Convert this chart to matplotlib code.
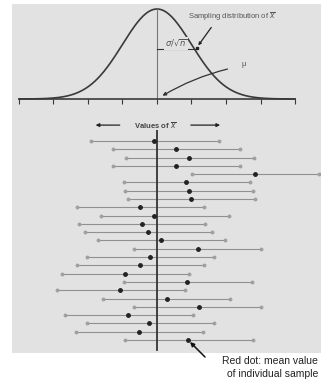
import numpy as np
import matplotlib
matplotlib.use('Agg')
import matplotlib.pyplot as plt
from matplotlib.patches import Rectangle

plt.rcParams['font.family'] = ['Liberation Sans', 'DejaVu Sans']

# x values are in units of sigma/sqrt(n), mu = 0
tick_pos = [-4, -3, -2, -1, 0, 1, 2, 3, 4]

# 25 sample intervals (top to bottom): lower end, sample mean, upper end
lower = [-1.92, -1.27, -0.90, -1.28, 1.01, -0.97, -0.92, -0.85, -2.31, -1.61,
         -2.27, -2.08, -1.72, -0.67, -2.04, -2.31, -2.75, -0.96, -2.89, -1.56,
         -0.67, -2.66, -2.04, -2.35, -0.93]
means = [-0.09, 0.55, 0.94, 0.55, 2.84, 0.84, 0.92, 0.98, -0.49, -0.09,
         -0.43, -0.26, 0.11, 1.19, -0.20, -0.49, -0.93, 0.88, -1.06, 0.28,
         1.21, -0.83, -0.23, -0.51, 0.90]
upper = [1.79, 2.41, 2.81, 2.40, 4.70, 2.70, 2.78, 2.84, 1.36, 2.08,
         1.40, 1.59, 1.97, 3.02, 1.65, 1.36, 0.92, 2.75, 0.80, 2.11,
         3.02, 1.03, 1.65, 1.34, 2.77]

W, H = 321, 381
fig = plt.figure(figsize=(W / 100, H / 100), dpi=100)
fig.patch.set_facecolor('white')
bg = '#e2e2e2'
fig.patches.append(Rectangle((12 / W, 1 - 353 / H), 1 - 12 / W, (353 - 4) / H,
                             transform=fig.transFigure, facecolor=bg,
                             edgecolor='none', zorder=-10))

xlim = (-157 / 34.5, (W - 157) / 34.5)

# ---- top panel: sampling distribution ----
ax1 = fig.add_axes([0, 1 - 132 / H, 1, 128 / H])
ax1.set_facecolor('none')
x = np.linspace(-4, 4, 400)
ax1.plot(x, np.exp(-x ** 2 / 2), color='#3a3a3a', lw=1.2)
ax1.plot([0, 0], [0, 1], color='#777777', lw=0.8)
ax1.set_xlim(xlim)
ax1.set_ylim(-33 / 90, 95 / 90)
for s in ['top', 'right', 'left']:
    ax1.spines[s].set_visible(False)
ax1.spines['bottom'].set_position(('data', 0))
ax1.spines['bottom'].set_bounds(-4, 4)
ax1.spines['bottom'].set_color('#3a3a3a')
ax1.spines['bottom'].set_linewidth(1.2)
ax1.set_xticks(tick_pos)
ax1.set_xticklabels([])
ax1.tick_params(axis='x', direction='out', length=3.5, width=0.8, color='#3a3a3a')
ax1.set_yticks([])

ax1.text(0.9, 0.92, r'Sampling distribution of $\overline{x}$', fontsize=5.5,
         color='#555555', va='center', ha='left')
ax1.annotate('', xy=(1.15, 0.57), xytext=(1.62, 0.82),
             arrowprops=dict(arrowstyle='-|>', color='#222222', lw=0.9,
                             mutation_scale=4))
ax1.plot([1.15], [0.57], 's', color='#222222', ms=2)

ax1.plot([0, 1.1], [0.55, 0.55], color='#333333', lw=0.8)
ax1.text(0.55, 0.62, r'$\sigma/\sqrt{n}$', fontsize=6, color='#555555',
         ha='center', va='center',
         bbox=dict(facecolor=bg, edgecolor='none', pad=0.5))

ax1.text(2.52, 0.38, 'μ', fontsize=5.5, color='#555555', ha='center', va='center')
ax1.annotate('', xy=(0.09, 0.02), xytext=(2.12, 0.34),
             arrowprops=dict(arrowstyle='-|>', color='#333333', lw=0.9,
                             mutation_scale=5,
                             connectionstyle='arc3,rad=0.08'))

ax1.text(-0.05, -0.29, r'Values of $\overline{x}$', fontsize=5.5, fontweight='bold',
         color='#444444', ha='center', va='center')
ax1.annotate('', xy=(-1.86, -0.29), xytext=(-1.0, -0.29),
             arrowprops=dict(arrowstyle='-|>', color='#222222', lw=0.9,
                             mutation_scale=5))
ax1.annotate('', xy=(1.91, -0.29), xytext=(0.9, -0.29),
             arrowprops=dict(arrowstyle='-|>', color='#222222', lw=0.9,
                             mutation_scale=5))

# ---- bottom panel: intervals ----
ax2 = fig.add_axes([0, 1 - 353 / H, 1, (353 - 130) / H])
ax2.set_facecolor('none')
n = len(means)
rows = np.arange(n)
ax2.hlines(rows, lower, upper, color='#909090', lw=0.8, zorder=2)
ax2.plot(lower, rows, 'o', color='#a0a0a0', ms=1.8, zorder=3)
ax2.plot(upper, rows, 'o', color='#a0a0a0', ms=1.8, zorder=3)
ax2.plot(means, rows, 'o', color='#222222', ms=2.5, zorder=4)
ax2.axvline(0, ymin=3 / 223, ymax=1, color='#333333', lw=1.3, zorder=3)
ax2.set_xlim(xlim)
ax2.set_ylim(24 + 13 / 8.29, -11 / 8.29)
ax2.axis('off')

ax2.annotate('', xy=(means[-1], n - 1), xytext=(205, H - 357),
             textcoords='figure pixels', annotation_clip=False,
             arrowprops=dict(arrowstyle='-|>', color='#111111', lw=1.1,
                             mutation_scale=6, shrinkA=0, shrinkB=2))
fig.text(318 / W, 1 - 361 / H, 'Red dot: mean value', fontsize=7.5,
         color='#222222', ha='right', va='center')
fig.text(318 / W, 1 - 374 / H, 'of individual sample', fontsize=7.5,
         color='#222222', ha='right', va='center')

fig.savefig('out.png', dpi=100)
